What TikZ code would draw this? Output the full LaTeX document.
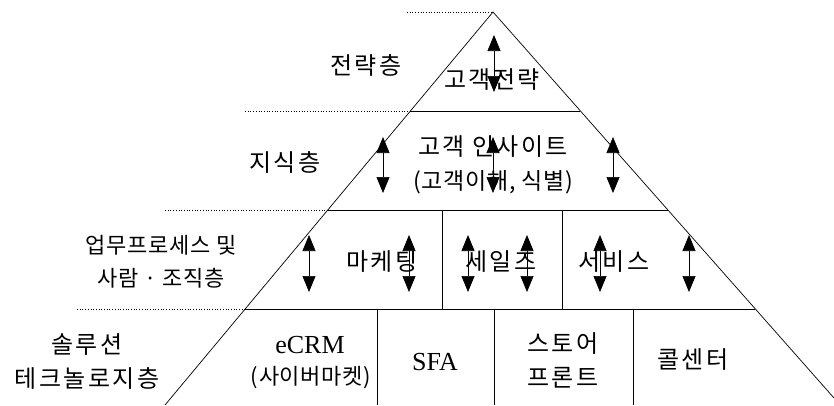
\documentclass[tikz,border=0pt]{standalone}
\usepackage{fontspec}
\setmainfont{Liberation Serif}
\newfontfamily\kr{Noto Sans CJK KR}[LetterSpace=10]
\newfontfamily\krn{Noto Sans CJK KR}[LetterSpace=3]
\usetikzlibrary{arrows.meta}
\begin{document}
\begin{tikzpicture}[x=1pt,y=-1pt,
  edge/.style={line width=0.7pt},
  guide/.style={dotted,line width=0.7pt},
  updown/.style={line width=0.7pt,{Triangle[length=16pt,width=13pt]}-{Triangle[length=16pt,width=13pt]}},
  lbl/.style={font=\kr\fontsize{24}{34}\selectfont,align=center,inner sep=0pt},
  lbln/.style={font=\krn\fontsize{22}{33}\selectfont,align=center,inner sep=0pt},
  lat/.style={font=\fontsize{26}{30}\selectfont,inner sep=0pt}]
\useasboundingbox (0,0) rectangle (834,405);
% pyramid outline
\coordinate (apex) at (493,12);
\coordinate (bl) at (165,405);
\coordinate (br) at (834,398);
\draw[edge] (bl) -- (apex) -- (br);
% layer lines
\coordinate (l1) at (410,111); \coordinate (r1) at (580,111);
\coordinate (l2) at (328,210); \coordinate (r2) at (668,210);
\coordinate (l3) at (245,309); \coordinate (r3) at (755,309);
\draw[edge] (l1) -- (r1);
\draw[edge] (l2) -- (r2);
\draw[edge] (l3) -- (r3);
% dotted guides
\coordinate (g0) at (407,12);
\coordinate (g1) at (245,111);
\coordinate (g2) at (165,210);
\coordinate (g3) at (77,309);
\draw[guide] (g0) -- (apex);
\draw[guide] (g1) -- (l1);
\draw[guide] (g2) -- (l2);
\draw[guide] (g3) -- (l3);
% dividers
\coordinate (d1t) at (442,210); \coordinate (d1b) at (442,309);
\coordinate (d2t) at (562,210); \coordinate (d2b) at (562,309);
\coordinate (d3t) at (377,309); \coordinate (d3b) at (377,405);
\coordinate (d4t) at (494,309); \coordinate (d4b) at (494,405);
\coordinate (d5t) at (633,309); \coordinate (d5b) at (633,405);
\draw[edge] (d1t) -- (d1b);
\draw[edge] (d2t) -- (d2b);
\draw[edge] (d3t) -- (d3b);
\draw[edge] (d4t) -- (d4b);
\draw[edge] (d5t) -- (d5b);
% left labels
\node[lbl] (lay1) at (366,65) {전략층};
\node[lbl] (lay2) at (285,162) {지식층};
\node[lbln] (lay3) at (161,262) {업무프로세스 및\\사람 · 조직층};
\node[lbl] (lay4) at (87,362) {솔루션\\테크놀로지층};
% inside labels
\node[lbl] (strat) at (492,80) {고객전략};
\node[lbl] (insight) at (493,165) {고객 인사이트\\\krn\fontsize{23}{34}\selectfont (고객이해, 식별)};
\node[lbl] (mkt) at (382,262) {마케팅};
\node[lbl] (sales) at (501,262) {세일즈};
\node[lbl] (svc) at (614,262) {서비스};
\node[lat] (ecrm) at (310,345) {eCRM};
\node[lbln] (cyber) at (311,378) {(사이버마켓)};
\node[lat] (sfa) at (435,362) {SFA};
\node[lbl] (store) at (563,360) {스토어\\프론트};
\node[lbl] (call) at (693,360) {콜센터};
% arrows
\coordinate (a0t) at (494,35);  \coordinate (a0b) at (494,92);
\draw[updown] (a0t) -- (a0b);
\foreach \x [count=\i] in {383,493,613}{
  \coordinate (b\i t) at (\x,137); \coordinate (b\i b) at (\x,193);
  \draw[updown] (b\i t) -- (b\i b);
}
\foreach \x [count=\i] in {309,409,468,527,600,689}{
  \coordinate (c\i t) at (\x,235); \coordinate (c\i b) at (\x,292);
  \draw[updown] (c\i t) -- (c\i b);
}
\end{tikzpicture}
\end{document}
